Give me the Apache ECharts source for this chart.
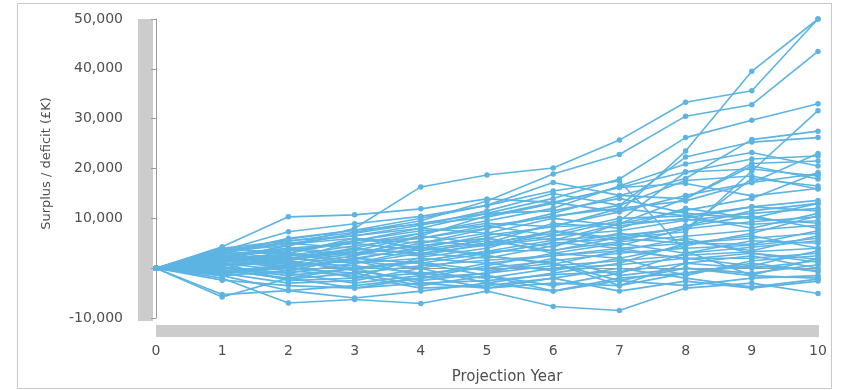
<!DOCTYPE html>
<html>
<head>
<meta charset="utf-8">
<script src="https://cdn.jsdelivr.net/npm/echarts@6/dist/echarts.min.js"></script>
<style>
  html, body { margin: 0; padding: 0; background: #ffffff; }
  #chart { width: 841px; height: 390px; }
</style>
</head>
<body>
<div id="chart"></div>
<script>
// Projection years on the horizontal axis
const years = [0, 1, 2, 3, 4, 5, 6, 7, 8, 9, 10];

// Value-axis tick marks (£K); zero is drawn without a label
const yTicks = [-10000, 0, 10000, 20000, 30000, 40000, 50000];

// Simulated surplus / deficit paths (£K), one value per projection year
const path01 = [0, 1500, 2500, 3000, 4500, 6000, 8500, 11300, 23500, 39500, 50000];
const path02 = [0, 2000, 4500, 8000, 16300, 18700, 20100, 25700, 33300, 35600, 50000];
const path03 = [0, 3000, 5400, 7200, 9500, 13500, 18900, 22800, 30500, 32800, 43500];
const path04 = [0, 2500, 3500, 5500, 8000, 11000, 14000, 17900, 26200, 29700, 33000];
const path05 = [0, 1000, -500, 2000, 1000, 3000, 5000, 6000, 7300, 19500, 31600];
const path06 = [0, 3000, 6000, 7600, 10000, 12600, 15500, 17500, 3400, -1400, 2000];
const path07 = [0, 4300, 10300, 10700, 11900, 13900, 13200, 16200, 19300, 21900, 22500];
const path08 = [0, 3500, 7300, 8900, 10400, 12600, 17200, 14600, 18000, 25800, 27500];
const path09 = [0, 3800, 5000, 6500, 8600, 11500, 15000, 12600, 22300, 25300, 26200];
const path10 = [0, 2800, 4000, 5000, 7000, 9500, 12000, 16500, 20900, 23200, 20500];
const path11 = [0, 1800, 2500, 4500, 6000, 8500, 10300, 12600, 17600, 18500, 15900];
const path12 = [0, 4000, 3000, 6000, 5000, 7900, 11000, 14600, 13900, 20500, 17900];
const path13 = [0, 2200, 1500, 3500, 6500, 10500, 13200, 11300, 14600, 17200, 23000];
const path14 = [0, 1200, 3000, 2000, 4000, 6600, 8300, 8900, 11600, 14000, 19200];
const path15 = [0, 500, 2000, 3000, 2500, 5000, 7000, 10000, 10500, 12300, 13600];
const path16 = [0, 3200, 2000, 1000, 3000, 4600, 6500, 7500, 9600, 11000, 12000];
const path17 = [0, -1000, 500, 2500, 5000, 7000, 5600, 6600, 7900, 9300, 10300];
const path18 = [0, 0, -1500, 0, 1500, 3400, 3600, 5300, 6400, 7600, 8600];
const path19 = [0, 1500, 0, -1000, 500, 1600, 2500, 4000, 5000, 6000, 7000];
const path20 = [0, 2000, 1000, 500, -1000, 0, 1500, 3000, 4000, 4600, 6000];
const path21 = [0, -2000, -7000, -6300, -7100, -4600, -7700, -8500, -4000, -3000, -5100];
const path22 = [0, -5300, -4500, -3500, -2000, -1000, 500, 1500, 2600, 3300, 4000];
const path23 = [0, -5800, -2000, 0, -3000, -2500, -1300, -700, 1000, 0, 1500];
const path24 = [0, -1500, -4500, -6000, -4600, -3000, -4600, -2000, -1000, 1000, -700];
const path25 = [0, -2400, -3500, -4000, -3000, -4000, -2000, -4600, -2600, -4000, -2600];
const path26 = [0, 1000, -2500, -2000, -1000, -2000, 0, 700, 2000, 2000, 3000];
const path27 = [0, 500, 1500, -500, -2500, -1000, 2000, -1500, 0, -1000, 700];
const path28 = [0, -500, -1000, 1000, 2000, 1000, -500, 2000, -1500, 1500, 2500];
const path29 = [0, 2500, 4000, 3000, 4500, 6000, 3000, 5000, 3000, 5500, 5000];
const path30 = [0, 1000, 3500, 5000, 3500, 5000, 9000, 8000, 12000, 10000, 9000];
const path31 = [0, 3000, 5000, 4000, 7000, 9000, 8300, 12000, 10500, 8000, 11000];
const path32 = [0, 0, 2000, 4000, 3000, 2000, 4500, 7000, 5500, 3500, 6500];
const path33 = [0, 1500, 500, 1500, 0, -3000, -1000, 1000, 5000, 6500, 4000];
const path34 = [0, -1000, -3000, -2500, 0, 2500, 1000, -2500, -3500, -2000, -1500];
const path35 = [0, 2000, 2800, 1500, -1500, -4000, -3000, -3500, 1000, 2500, 0];
const path36 = [0, 4000, 5500, 6500, 8000, 7000, 10000, 8500, 10000, 12300, 11500];
const path37 = [0, 3500, 4500, 7000, 9000, 11000, 11500, 14000, 11000, 10000, 13000];
const path38 = [0, 800, 1000, 3000, 5500, 4500, 6000, 4500, 7900, 18000, 16500];
const path39 = [0, -500, -2000, -4000, -2000, 500, 3000, 2000, 4500, 7000, 10500];
const path40 = [0, 2500, 0, 2000, 1000, -1500, -4600, -2500, 0, -1500, -2000];
const path41 = [0, 1200, 2300, 0, 1500, 3400, 5600, 8900, 14000, 21000, 21500];
const path42 = [0, 3000, 3000, 5500, 7500, 8500, 6500, 9500, 19300, 19900, 18500];
const path43 = [0, -1500, -500, -1500, -4000, -3500, -2000, 0, -2000, -3800, -2200];
const path44 = [0, 300, -1000, -3000, -1500, 1000, 2500, 3500, 2000, 500, 3500];
const path45 = [0, 2200, 3800, 2500, 6500, 4800, 7500, 6000, 5000, 4800, 7500];
const path46 = [0, 1700, 1500, 5500, 6000, 8000, 10500, 12000, 13500, 17200, 19000];
const path47 = [0, 2600, 1800, 3800, 2800, 6000, 4200, 9000, 9800, 8800, 9500];
const path48 = [0, -800, 800, -2000, 2200, 4000, 7500, 5500, 8500, 11500, 13000];
const path49 = [0, 1400, 4800, 6000, 4000, 2500, 800, 3500, 6000, 3000, 1800];
const path50 = [0, -300, -2200, -1000, -3500, -1500, -3500, -1000, 3000, 4200, 5500];
const path51 = [0, 3300, 5800, 7600, 8800, 10200, 13000, 16200, 17000, 14500, 16000];
const path52 = [0, 600, 2800, 1000, 3800, 5500, 3500, 6200, 8300, 10500, 8000];
const path53 = [0, 2400, 1200, -200, 1200, -500, 1000, -3500, -1000, 500, -500];
const path54 = [0, -1200, 200, 1800, 4200, 2800, 5200, 4000, 1800, 3000, 1200];

const paths = [
  path01, path02, path03, path04, path05, path06, path07, path08, path09, path10,
  path11, path12, path13, path14, path15, path16, path17, path18, path19, path20,
  path21, path22, path23, path24, path25, path26, path27, path28, path29, path30,
  path31, path32, path33, path34, path35, path36, path37, path38, path39, path40,
  path41, path42, path43, path44, path45, path46, path47, path48, path49, path50,
  path51, path52, path53, path54
];

const lineColor = '#5cb4e3';
const textColor = '#4f4f4f';
const axisColor = '#9a9a9a';
const fontFamily = '"DejaVu Sans", sans-serif';

const chart = echarts.init(document.getElementById('chart'), null, { renderer: 'canvas' });

const series = paths.map((p, i) => ({
  name: 'Path ' + (i + 1),
  type: 'line',
  data: years.map((yr, k) => [yr, p[k]]),
  symbol: 'circle',
  symbolSize: 5.5,
  showSymbol: true,
  lineStyle: { color: lineColor, width: 1.6 },
  itemStyle: { color: lineColor },
  emphasis: { disabled: true },
  silent: true,
  z: 3
}));

const yStep = yTicks[2] - yTicks[1];

chart.setOption({
  animation: false,
  backgroundColor: '#ffffff',
  grid: { left: 156, right: 23, top: 19, bottom: 69, containLabel: false },
  xAxis: {
    type: 'value',
    min: years[0],
    max: years[years.length - 1],
    interval: 1,
    offset: 17,
    name: 'Projection Year',
    nameLocation: 'middle',
    nameGap: 35,
    nameTextStyle: { color: textColor, fontSize: 15, fontFamily, padding: [0, 0, 0, 40] },
    axisLine: { show: true, lineStyle: { color: axisColor, width: 1 } },
    axisTick: { show: true, length: 5, lineStyle: { color: axisColor } },
    axisLabel: { color: textColor, fontSize: 14, fontFamily, margin: 9 },
    splitLine: { show: false }
  },
  yAxis: {
    type: 'value',
    min: yTicks[0],
    max: yTicks[yTicks.length - 1],
    interval: yStep,
    offset: 23,
    name: 'Surplus / deficit (£K)',
    nameLocation: 'middle',
    nameRotate: 90,
    nameGap: 80,
    nameTextStyle: { color: textColor, fontSize: 13, fontFamily, padding: [0, 0, 0, 10] },
    axisLine: { show: true, lineStyle: { color: axisColor, width: 1 } },
    axisTick: { show: true, length: 5, lineStyle: { color: axisColor } },
    axisLabel: {
      color: textColor,
      fontSize: 14,
      fontFamily,
      margin: 10,
      formatter: v => (v === 0 ? '' : v.toLocaleString('en-GB'))
    },
    splitLine: { show: false }
  },
  graphic: [
    // outer frame
    {
      type: 'rect',
      shape: { x: 17.5, y: 3.5, width: 814, height: 385 },
      style: { fill: 'none', stroke: '#c9c9c9', lineWidth: 1 },
      silent: true
    },
    // vertical range bar beside the value axis
    {
      type: 'rect',
      shape: { x: 138, y: 19, width: 15, height: 302 },
      style: { fill: '#cccccc' },
      silent: true
    },
    // horizontal range bar above the year axis
    {
      type: 'rect',
      shape: { x: 156, y: 325, width: 663, height: 12 },
      style: { fill: '#cccccc' },
      silent: true
    }
  ],
  series
});
</script>
</body>
</html>
